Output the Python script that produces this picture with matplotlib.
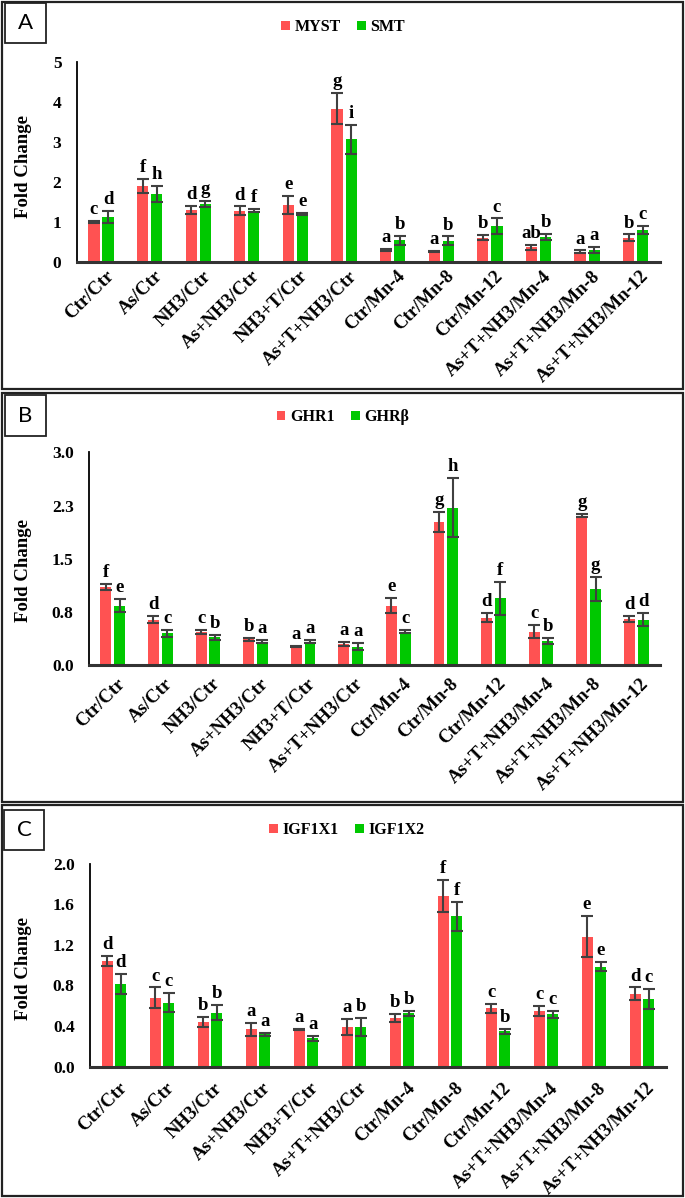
import matplotlib
matplotlib.use('Agg')
import matplotlib.pyplot as plt
import matplotlib.transforms as mtransforms
from matplotlib.patches import Rectangle
import numpy as np

W, H = 685, 1198

groups = ['Ctr/Ctr', 'As/Ctr', 'NH3/Ctr', 'As+NH3/Ctr', 'NH3+T/Ctr', 'As+T+NH3/Ctr',
          'Ctr/Mn-4', 'Ctr/Mn-8', 'Ctr/Mn-12', 'As+T+NH3/Mn-4', 'As+T+NH3/Mn-8',
          'As+T+NH3/Mn-12']

# panel A
myst = [0.99, 1.89, 1.29, 1.27, 1.42, 3.83, 0.29, 0.25, 0.60, 0.36, 0.25, 0.60]
myst_err = [0.03, 0.18, 0.10, 0.11, 0.22, 0.39, 0.02, 0.01, 0.07, 0.06, 0.03, 0.08]
myst_sig = ['c', 'f', 'd', 'd', 'e', 'g', 'a', 'a', 'b', 'ab', 'a', 'b']
smt = [1.11, 1.70, 1.44, 1.27, 1.19, 3.06, 0.53, 0.52, 0.88, 0.62, 0.29, 0.79]
smt_err = [0.15, 0.20, 0.07, 0.04, 0.03, 0.36, 0.11, 0.11, 0.20, 0.08, 0.07, 0.11]
smt_sig = ['d', 'h', 'g', 'f', 'e', 'i', 'b', 'b', 'c', 'b', 'a', 'c']
ticks_a = [0, 1, 2, 3, 4, 5]
ticklabels_a = ['0', '1', '2', '3', '4', '5']

# panel B
ghr1 = [1.10, 0.64, 0.47, 0.365, 0.26, 0.30, 0.84, 2.02, 0.67, 0.47, 2.11, 0.65]
ghr1_err = [0.04, 0.05, 0.03, 0.02, 0.01, 0.03, 0.10, 0.14, 0.06, 0.09, 0.02, 0.04]
ghr1_sig = ['f', 'd', 'c', 'b', 'a', 'a', 'e', 'g', 'd', 'c', 'g', 'd']
ghrb = [0.84, 0.45, 0.39, 0.33, 0.33, 0.26, 0.47, 2.22, 0.94, 0.34, 1.07, 0.64]
ghrb_err = [0.09, 0.05, 0.03, 0.02, 0.02, 0.05, 0.02, 0.42, 0.23, 0.04, 0.17, 0.09]
ghrb_sig = ['e', 'c', 'b', 'a', 'a', 'a', 'c', 'h', 'f', 'b', 'g', 'd']
ticks_b = [0, 0.75, 1.5, 2.25, 3.0]
ticklabels_b = ['0.0', '0.8', '1.5', '2.3', '3.0']

# panel C
igf1 = [1.04, 0.68, 0.44, 0.37, 0.37, 0.39, 0.48, 1.68, 0.575, 0.55, 1.28, 0.72]
igf1_err = [0.05, 0.10, 0.05, 0.065, 0.005, 0.08, 0.04, 0.155, 0.045, 0.05, 0.20, 0.06]
igf1_sig = ['d', 'c', 'b', 'a', 'a', 'a', 'b', 'f', 'c', 'c', 'e', 'd']
igf2 = [0.815, 0.63, 0.53, 0.32, 0.28, 0.39, 0.525, 1.48, 0.35, 0.515, 0.985, 0.667]
igf2_err = [0.10, 0.095, 0.075, 0.015, 0.025, 0.09, 0.025, 0.14, 0.025, 0.035, 0.045, 0.10]
igf2_sig = ['d', 'c', 'b', 'a', 'a', 'b', 'b', 'f', 'b', 'c', 'e', 'c']
ticks_c = [0, 0.4, 0.8, 1.2, 1.6, 2.0]
ticklabels_c = ['0.0', '0.4', '0.8', '1.2', '1.6', '2.0']

RED = '#FF5252'
GREEN = '#00C800'
ERR = '#404040'
SERIF = 'Liberation Serif'

fig = plt.figure(figsize=(W / 100, H / 100), dpi=100)


def px_axes(left, top, right, bottom):
    return fig.add_axes([left / W, 1 - bottom / H, (right - left) / W, (bottom - top) / H])


def panel(box, letter_box, letter, ax_px, legend_xy, ylabel_y, names,
          s1, e1, g1, s2, e2, g2, yticks, yticklabels, xpad):
    # outer frame
    fig.add_artist(Rectangle((box[0] / W, 1 - box[3] / H), (box[2] - box[0]) / W,
                             (box[3] - box[1]) / H, transform=fig.transFigure,
                             fill=False, lw=1.6, ec='#222222'))
    fig.add_artist(Rectangle((letter_box[0] / W, 1 - letter_box[3] / H),
                             (letter_box[2] - letter_box[0]) / W,
                             (letter_box[3] - letter_box[1]) / H,
                             transform=fig.transFigure, fill=False, lw=1.3, ec='#222222'))
    fig.text((letter_box[0] + letter_box[2]) / 2 / W, 1 - (letter_box[1] + letter_box[3]) / 2 / H,
             letter, ha='center', va='center', fontsize=16, family='Lato')

    ax = px_axes(*ax_px)
    x = np.arange(len(groups))
    w, off = 0.23, 0.145
    ekw = dict(ecolor=ERR, elinewidth=1.5, capsize=4, capthick=1.5)
    b1 = ax.bar(x - off, s1, w, color=RED, yerr=e1, error_kw=ekw, label=names[0])
    b2 = ax.bar(x + off, s2, w, color=GREEN, yerr=e2, error_kw=ekw, label=names[1])
    lift = mtransforms.offset_copy(ax.transData, fig=fig, x=0, y=5, units='points')
    for i in range(len(groups)):
        ax.text(x[i] - off, s1[i] + e1[i], g1[i], transform=lift, ha='center',
                va='baseline', fontsize=13.5, fontweight='bold', family=SERIF)
        ax.text(x[i] + off, s2[i] + e2[i], g2[i], transform=lift, ha='center',
                va='baseline', fontsize=13.5, fontweight='bold', family=SERIF)

    ax.set_xlim(-0.5, len(groups) - 0.5)
    ax.set_ylim(yticks[0], yticks[-1])
    ax.set_yticks(yticks)
    ax.set_yticklabels(yticklabels, fontsize=12.5, fontweight='bold', family=SERIF)
    ax.tick_params(axis='y', length=0, pad=11)
    ax.set_xticks(x)
    ax.set_xticklabels(groups, rotation=45, ha='right', va='center', rotation_mode='anchor',
                       fontsize=13.5, fontweight='bold', family=SERIF)
    ax.tick_params(axis='x', length=0, pad=xpad)
    shift = mtransforms.ScaledTranslation(10 / 100, 0, fig.dpi_scale_trans)
    for lab in ax.get_xticklabels():
        lab.set_transform(lab.get_transform() + shift)
    for s in ['top', 'right']:
        ax.spines[s].set_visible(False)
    ax.spines['left'].set_linewidth(1.3)
    ax.spines['bottom'].set_linewidth(2.2)
    ax.spines['bottom'].set_color('#333333')
    ax.set_facecolor('none')

    fig.legend([b1, b2], names, loc='center', bbox_to_anchor=(legend_xy[0] / W, 1 - legend_xy[1] / H),
               ncol=2, frameon=False, handlelength=0.55, handleheight=0.55,
               handletextpad=0.3, columnspacing=1.0,
               prop=dict(family=SERIF, weight='bold', size=11.5))
    fig.text(24 / W, 1 - ylabel_y / H, 'Fold Change', rotation=90, ha='center', va='center',
             fontsize=13.5, fontweight='bold', family=SERIF)
    return ax


panel((2, 2, 683, 389), (5, 3, 46, 43), 'A', (76.7, 61.7, 660, 261.7), (343, 27), 167,
      ['MYST', 'SMT'], myst, myst_err, myst_sig, smt, smt_err, smt_sig,
      ticks_a, ticklabels_a, 8.5)
panel((2, 393, 683, 802), (5, 395, 46, 436), 'B', (89, 452.5, 660, 665), (343, 417), 570,
      ['GHR1', 'GHRβ'], ghr1, ghr1_err, ghr1_sig, ghrb, ghrb_err, ghrb_sig,
      ticks_b, ticklabels_b, 11.5)
panel((2, 805, 683, 1196), (4, 810, 44, 850), 'C', (90, 863.5, 666, 1066.7), (347, 830), 969,
      ['IGF1X1', 'IGF1X2'], igf1, igf1_err, igf1_sig, igf2, igf2_err, igf2_sig,
      ticks_c, ticklabels_c, 13.5)

fig.savefig('out.png', dpi=100)
